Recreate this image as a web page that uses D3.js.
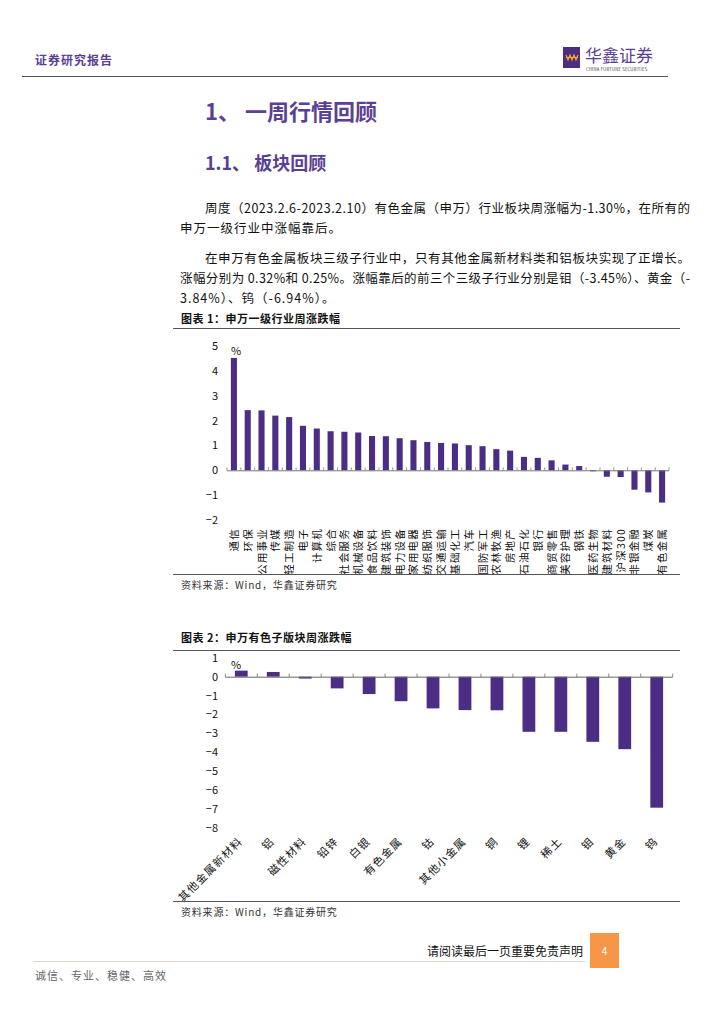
<!DOCTYPE html>
<html><head><meta charset="utf-8">
<script src="https://cdn.jsdelivr.net/npm/d3@7"></script>
<style>
html,body{margin:0;padding:0;background:#fff;}
svg text{font-family:"Noto Sans CJK SC","Noto Sans",sans-serif;}
</style></head>
<body>
<svg id="page" width="724" height="1024"></svg>
<script>
// ---------- data ----------
const categories1 = ["通信","环保","公用事业","传媒","轻工制造","电子","计算机","综合","社会服务","机械设备","食品饮料","建筑装饰","电力设备","家用电器","纺织服饰","交通运输","基础化工","汽车","国防军工","农林牧渔","房地产","石油石化","银行","商贸零售","美容护理","钢铁","医药生物","建筑材料","沪深300","非银金融","煤炭","有色金属"];
const values1 = [4.52,2.42,2.41,2.20,2.14,1.79,1.68,1.57,1.55,1.52,1.38,1.37,1.29,1.21,1.14,1.10,1.08,1.01,0.97,0.85,0.79,0.54,0.50,0.40,0.23,0.17,-0.04,-0.26,-0.27,-0.78,-0.89,-1.30];
const yTicks1 = [5,4,3,2,1,0,-1,-2];

const categories2 = ["其他金属新材料","铝","磁性材料","铅锌","白银","有色金属","钴","其他小金属","铜","锂","稀土","钼","黄金","钨"];
const values2 = [0.32,0.25,-0.10,-0.62,-0.92,-1.30,-1.68,-1.77,-1.78,-2.92,-2.92,-3.45,-3.84,-6.94];
const yTicks2 = [1,0,-1,-2,-3,-4,-5,-6,-7,-8];

const para1 = ["周度（2023.2.6-2023.2.10）有色金属（申万）行业板块周涨幅为-1.30%，在所有的","申万一级行业中涨幅靠后。"];
const para2 = ["在申万有色金属板块三级子行业中，只有其他金属新材料类和铝板块实现了正增长。","涨幅分别为 0.32%和 0.25%。涨幅靠后的前三个三级子行业分别是钼（-3.45%）、黄金（-","3.84%）、钨（-6.94%）。"];

// ---------- page ----------
const svg = d3.select("#page");
const purple = "#5b3f95";
const barColor = "#4b2d84";

// header
svg.append("text").attr("x",35).attr("y",65).attr("font-size",12).attr("font-weight","bold")
  .attr("fill",purple).attr("letter-spacing",1).text("证券研究报告");
svg.append("line").attr("x1",22).attr("x2",668).attr("y1",76.5).attr("y2",76.5)
  .attr("stroke","#555").attr("stroke-width",1.2);
svg.append("rect").attr("x",563).attr("y",47).attr("width",17).attr("height",21).attr("fill","#4b2d84");
svg.append("path").attr("d","M566,55 L568,60 L570,55 L572,60 L574,55 L576,60 L578,55 M566,57.5 H578")
  .attr("fill","none").attr("stroke","#f5a623").attr("stroke-width",1.2);
svg.append("text").attr("x",585).attr("y",62).attr("font-size",17).attr("fill",purple).text("华鑫证券");
svg.append("text").attr("x",586).attr("y",71).attr("font-size",4.2).attr("fill","#333").attr("letter-spacing",0.2)
  .text("CHINA FORTUNE SECURITIES");

// headings
svg.append("text").attr("x",205).attr("y",120).attr("font-size",22).attr("font-weight","bold")
  .attr("fill",purple).text("1、 一周行情回顾");
svg.append("text").attr("x",205).attr("y",170).attr("font-size",18).attr("font-weight","bold")
  .attr("fill",purple).text("1.1、 板块回顾");

// paragraphs
function line(txt,x,y,fit){
  const t = svg.append("text").attr("x",x).attr("y",y).attr("font-size",12.5).attr("fill","#111").text(txt);
  if(fit){ t.attr("textLength",fit-x).attr("lengthAdjust","spacing"); }
  else { t.attr("letter-spacing",1); }
}
line(para1[0],205,213,690);
line(para1[1],180,233,null);
line(para2[0],205,263,690);
line(para2[1],180,283,690);
line(para2[2],180,303,null);

// ---------- chart 1 ----------
svg.append("text").attr("x",181).attr("y",323).attr("font-size",11).attr("font-weight","bold")
  .attr("fill","#111").attr("letter-spacing",0.5).text("图表 1：申万一级行业周涨跌幅");
svg.append("line").attr("x1",173).attr("x2",680).attr("y1",328.5).attr("y2",328.5).attr("stroke","#555").attr("stroke-width",1);

const x1 = d3.scaleBand().domain(categories1).range([227,669]).paddingInner(0.56).paddingOuter(0.28);
const y1 = d3.scaleLinear().domain([-2,5]).range([520,346]);
const g1 = svg.append("g");
g1.selectAll("rect").data(values1).join("rect")
  .attr("x",(d,i)=>x1(categories1[i]))
  .attr("width",x1.bandwidth())
  .attr("y",d=>d>=0?y1(d):y1(0))
  .attr("height",d=>Math.abs(y1(d)-y1(0)))
  .attr("fill",barColor);
g1.selectAll("text.yt").data(yTicks1).join("text").attr("class","yt")
  .attr("x",218).attr("y",d=>y1(d)+4).attr("text-anchor","end")
  .attr("font-family","Liberation Sans, Arial, sans-serif").attr("font-size",11).attr("fill","#111")
  .text(d=>d<0?"−"+Math.abs(d):d);
g1.append("line").attr("x1",227).attr("x2",669).attr("y1",y1(0)+0.5).attr("y2",y1(0)+0.5).attr("stroke","#777");
g1.selectAll("line.tk").data(d3.range(categories1.length+1)).join("line").attr("class","tk")
  .attr("x1",i=>227+i*x1.step()).attr("x2",i=>227+i*x1.step())
  .attr("y1",y1(0)+0.5).attr("y2",y1(0)-3).attr("stroke","#999");
g1.append("text").attr("x",231).attr("y",355).attr("font-family","Liberation Sans, Arial, sans-serif")
  .attr("font-size",11).attr("fill","#111").text("%");
g1.selectAll("text.cl").data(categories1).join("text").attr("class","cl")
  .attr("transform",d=>`translate(${x1(d)+x1.bandwidth()/2+4},528) rotate(-90)`)
  .attr("text-anchor","end").attr("font-size",10.5).attr("fill","#111").attr("letter-spacing",1.2)
  .text(d=>d);
svg.append("line").attr("x1",173).attr("x2",680).attr("y1",574.5).attr("y2",574.5).attr("stroke","#555").attr("stroke-width",1);
svg.append("text").attr("x",181).attr("y",589).attr("font-size",10).attr("fill","#333").attr("letter-spacing",0.8)
  .text("资料来源：Wind，华鑫证券研究");

// ---------- chart 2 ----------
svg.append("text").attr("x",181).attr("y",642).attr("font-size",11).attr("font-weight","bold")
  .attr("fill","#111").attr("letter-spacing",0.5).text("图表 2：申万有色子版块周涨跌幅");
svg.append("line").attr("x1",173).attr("x2",680).attr("y1",650.5).attr("y2",650.5).attr("stroke","#555").attr("stroke-width",1);

const x2 = d3.scaleBand().domain(categories2).range([225.3,672.7]).paddingInner(0.6).paddingOuter(0.3);
const y2 = d3.scaleLinear().domain([-8,1]).range([827.7,657.8]);
const g2 = svg.append("g");
g2.selectAll("rect").data(values2).join("rect")
  .attr("x",(d,i)=>x2(categories2[i]))
  .attr("width",x2.bandwidth())
  .attr("y",d=>d>=0?y2(d):y2(0))
  .attr("height",d=>Math.abs(y2(d)-y2(0)))
  .attr("fill",barColor);
g2.selectAll("text.yt").data(yTicks2).join("text").attr("class","yt")
  .attr("x",218).attr("y",d=>y2(d)+4).attr("text-anchor","end")
  .attr("font-family","Liberation Sans, Arial, sans-serif").attr("font-size",11).attr("fill","#111")
  .text(d=>d<0?"−"+Math.abs(d):d);
g2.append("line").attr("x1",225.3).attr("x2",672.7).attr("y1",y2(0)+0.5).attr("y2",y2(0)+0.5).attr("stroke","#666");
g2.selectAll("line.tk").data(d3.range(categories2.length+1)).join("line").attr("class","tk")
  .attr("x1",i=>225.3+i*x2.step()).attr("x2",i=>225.3+i*x2.step())
  .attr("y1",y2(0)+0.5).attr("y2",y2(0)-3).attr("stroke","#888");
g2.append("text").attr("x",231).attr("y",669).attr("font-family","Liberation Sans, Arial, sans-serif")
  .attr("font-size",11).attr("fill","#111").text("%");
g2.selectAll("text.cl").data(categories2).join("text").attr("class","cl")
  .attr("transform",d=>`translate(${x2(d)+x2.bandwidth()/2+2},842) rotate(-45)`)
  .attr("text-anchor","end").attr("font-size",11).attr("fill","#111").attr("letter-spacing",1.2)
  .text(d=>d);
svg.append("line").attr("x1",173).attr("x2",680).attr("y1",901.5).attr("y2",901.5).attr("stroke","#555").attr("stroke-width",1);
svg.append("text").attr("x",181).attr("y",916).attr("font-size",10).attr("fill","#333").attr("letter-spacing",0.8)
  .text("资料来源：Wind，华鑫证券研究");

// ---------- footer ----------
svg.append("line").attr("x1",33).attr("x2",585).attr("y1",961.5).attr("y2",961.5).attr("stroke","#d8d8cc").attr("stroke-width",1);
svg.append("text").attr("x",583).attr("y",956).attr("text-anchor","end").attr("font-size",12).attr("fill","#111")
  .text("请阅读最后一页重要免责声明");
svg.append("rect").attr("x",590).attr("y",933).attr("width",29).attr("height",35).attr("fill","#f79646");
svg.append("text").attr("x",604.5).attr("y",955).attr("text-anchor","middle").attr("font-size",10).attr("fill","#fff")
  .attr("font-family","Liberation Sans, Arial, sans-serif").text("4");
svg.append("text").attr("x",35).attr("y",980).attr("font-size",11).attr("fill","#666").attr("letter-spacing",1)
  .text("诚信、专业、稳健、高效");
</script>
</body></html>
